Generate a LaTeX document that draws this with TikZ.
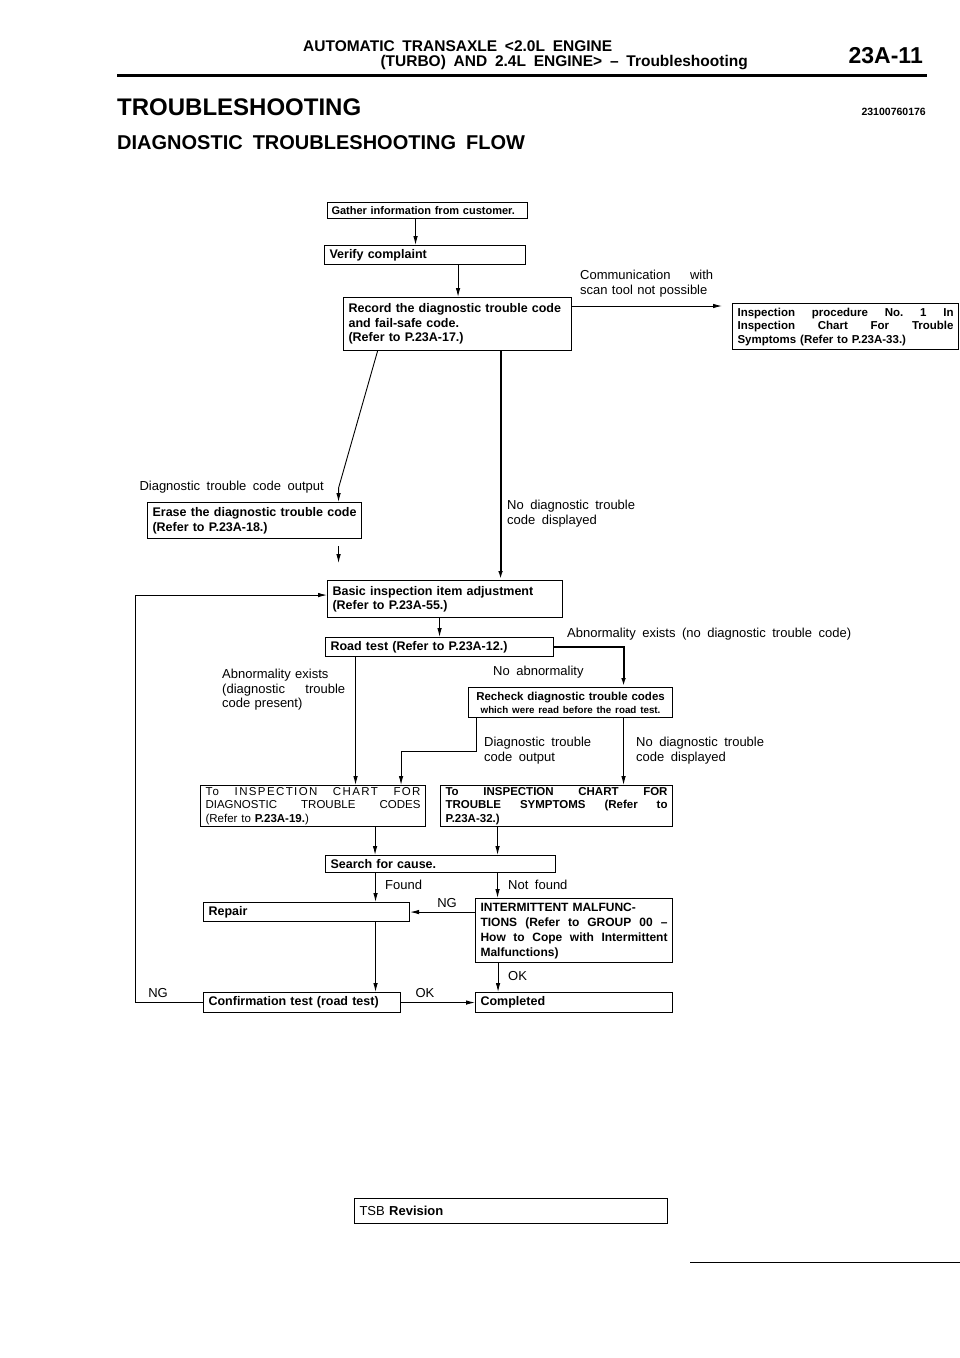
\documentclass[tikz,border=0pt]{standalone}
\usepackage{fontspec}
\setmainfont{Liberation Sans}[WordSpace=1.8]
\usepackage{tikz}
\usetikzlibrary{arrows.meta}

\tikzset{
  box/.style={draw, line width=1.1pt, anchor=north west, inner xsep=5pt, inner ysep=1.5pt,
    align=left, font=\bfseries\fontsize{12.5}{14.5}\selectfont},
  lbl/.style={inner sep=0pt, align=left, font=\fontsize{13}{14.5}\selectfont},
  arr/.style={line width=.9pt, -{Latex[length=9pt,width=4.5pt]}},
  heavy/.style={line width=2pt},
}

\begin{document}
\begin{tikzpicture}[x=1pt, y=-1pt]
\useasboundingbox (0,0) rectangle (960,1358);
\node[anchor=west, inner sep=0pt, font=\bfseries\fontsize{15.5}{18}\selectfont] (head1) at (303,46) {AUTOMATIC TRANSAXLE <2.0L ENGINE};
\node[anchor=east, inner sep=0pt, font=\bfseries\fontsize{15.5}{18}\selectfont] (head2) at (748,63) {(TURBO) AND 2.4L ENGINE> -- Troubleshooting};
\node[anchor=east, inner sep=0pt, font=\bfseries\fontsize{23}{26}\selectfont] (pageno) at (923,56) {23A-11};
\draw[line width=3pt] (117,75) -- (927,75);
\node[anchor=west, inner sep=0pt, font=\bfseries\fontsize{24}{28}\selectfont] (title) at (117,107) {TROUBLESHOOTING};
\node[anchor=west, inner sep=0pt, font=\bfseries\fontsize{20}{24}\selectfont] (subtitle) at (117,143) {DIAGNOSTIC TROUBLESHOOTING FLOW};
\node[anchor=east, inner sep=0pt, font=\bfseries\fontsize{10.5}{12}\selectfont] (docno) at (926,112) {23100760176};

\node[box, text width=192pt, inner xsep=4pt, minimum height=16pt, font=\bfseries\fontsize{11}{13}\selectfont] (gather) at (327,202) {Gather information from customer.};
\node[box, text width=191pt, minimum height=19pt] (verify) at (324,245) {Verify complaint};
\node[box, text width=218pt, minimum height=53pt] (record) at (343,297) {Record the diagnostic trouble code\\and fail-safe code.\\(Refer to P.23A-17.)};
\node[box, text width=216pt, minimum height=46pt, font=\bfseries\fontsize{11.5}{13.5}\selectfont] (noscan) at (732,303)
  {Inspection\hfill procedure\hfill No.\hfill 1\hfill In\\Inspection\hfill Chart\hfill For\hfill Trouble\\Symptoms (Refer to P.23A-33.)};
\node[box, text width=204pt, minimum height=36pt] (erase) at (147,502) {Erase\hfill the\hfill diagnostic\hfill trouble\hfill code\\(Refer to P.23A-18.)};
\node[box, text width=225pt, minimum height=37pt] (basic) at (327,580) {Basic inspection item adjustment\\(Refer to P.23A-55.)};
\node[box, text width=218pt, minimum height=19pt] (roadtest) at (325,637) {Road test (Refer to P.23A-12.)};
\node[box, text width=194pt, minimum height=30pt, align=center, font=\bfseries\fontsize{11.5}{13}\selectfont] (recheck) at (468,687)
  {Recheck diagnostic trouble codes\\{\fontsize{9.8}{11}\selectfont which were read before the road test.}};
\node[box, text width=215pt, minimum height=41pt, font=\fontsize{11.5}{13.5}\selectfont] (chartdtc) at (200,785)
  {{\addfontfeatures{LetterSpace=12}To\hfill INSPECTION\hfill CHART\hfill FOR}\\DIAGNOSTIC\hfill TROUBLE\hfill CODES\\(Refer to \textbf{P.23A-19.})};
\node[box, text width=222pt, minimum height=41pt, font=\bfseries\fontsize{11.5}{13.5}\selectfont] (chartsym) at (440,785)
  {To\hfill INSPECTION\hfill CHART\hfill FOR\\TROUBLE\hfill SYMPTOMS\hfill (Refer\hfill to\\P.23A-32.)};
\node[box, text width=220pt, minimum height=17pt] (search) at (325,855) {Search for cause.};
\node[box, text width=196pt, minimum height=19pt] (repair) at (203,902) {Repair};
\node[box, text width=187pt, minimum height=64pt, font=\bfseries\fontsize{12}{15}\selectfont] (intermit) at (475,898)
  {INTERMITTENT MALFUNC-\\TIONS\hfill (Refer\hfill to\hfill GROUP\hfill 00\hfill --\\How\hfill to\hfill Cope\hfill with\hfill Intermittent\\Malfunctions)};
\node[box, text width=187pt, minimum height=20pt] (confirm) at (203,992) {Confirmation test (road test)};
\node[box, text width=187pt, minimum height=20pt] (done) at (475,992) {Completed};

\node[lbl, anchor=north west, text width=133pt] (comm) at (580,270) {Communication\hfill with\\scan tool not possible};
\node[lbl, anchor=east] (dtcout) at (324,487) {Diagnostic trouble code output};
\node[lbl, anchor=north west] (nodtc) at (507,500) {No diagnostic trouble\\code displayed};
\node[lbl, anchor=west] (abnno) at (567,634) {Abnormality exists (no diagnostic trouble code)};
\node[lbl, anchor=north west, text width=123pt] (abndtc) at (222,669) {Abnormality exists\\(diagnostic\hfill trouble\\code present)};
\node[lbl, anchor=west] (noabn) at (493,672) {No abnormality};
\node[lbl, anchor=north west] (dtcoutb) at (484,737) {Diagnostic trouble\\code output};
\node[lbl, anchor=north west] (nodtcb) at (636,737) {No diagnostic trouble\\code displayed};
\node[lbl, anchor=west] (found) at (385,885) {Found};
\node[lbl, anchor=west] (notfound) at (508,885) {Not found};
\node[lbl] (ngrepair) at (447,903) {NG};
\node[lbl, anchor=west] (okdone) at (508,976) {OK};
\node[lbl] (okconfirm) at (425,993) {OK};
\node[lbl] (ngloop) at (158,993) {NG};

\draw[arr] ([xshift=-12pt]gather.south) -- ([xshift=-12pt]gather.south |- verify.north);
\draw[arr] ([xshift=33pt]verify.south) -- ([xshift=33pt]verify.south |- record.north);
\draw[arr, shorten >=10pt] ([yshift=-9pt]record.north east) -- ([yshift=-9pt]record.north east -| noscan.west);
\draw[arr] ([xshift=-80pt]record.south) -- ([xshift=84pt, yshift=14pt]erase.north) -- ([xshift=84pt]erase.north);
\draw[arr, heavy] ([xshift=43pt]record.south) -- ([xshift=43pt]record.south |- basic.north);
\draw[arr] ([xshift=84pt, yshift=-7pt]erase.south) -- ++(0,17);
\draw[arr] (confirm.west) -- ++(-68,0) |- ([yshift=4pt]basic.west);
\draw[arr] (basic.south -| roadtest.north) -- (roadtest.north);
\draw[arr, heavy] (roadtest.east) -| ([xshift=53pt]recheck.north);
\draw[arr] ([xshift=-84pt]roadtest.south) -- ([xshift=-84pt]roadtest.south |- chartdtc.north);
\draw[arr] ([xshift=-94pt]recheck.south) -- ++(0,33) -| ([xshift=88pt]chartdtc.north);
\draw[arr] ([xshift=53pt]recheck.south) -- ([xshift=53pt]recheck.south |- chartsym.north);
\draw[arr] ([xshift=62pt]chartdtc.south) -- ([xshift=62pt]chartdtc.south |- search.north);
\draw[arr] ([xshift=-59pt]chartsym.south) -- ([xshift=-59pt]chartsym.south |- search.north);
\draw[arr] ([xshift=-65pt]search.south) -- ([xshift=-65pt]search.south |- repair.north);
\draw[arr] ([xshift=57pt]search.south) -- ([xshift=57pt]search.south |- intermit.north);
\draw[arr] (repair.east -| intermit.west) -- (repair.east);
\draw[arr] ([xshift=69pt]repair.south) -- ([xshift=69pt]repair.south |- confirm.north);
\draw[arr] ([xshift=-76pt]intermit.south) -- ([xshift=-76pt]intermit.south |- done.north);
\draw[arr] (confirm.east) -- (confirm.east -| done.west);

\node[box, text width=303pt, minimum height=25pt, font=\fontsize{13}{15}\selectfont] (tsb) at (354,1198) {TSB \textbf{Revision}};
\draw[line width=1pt] (690,1262) -- (960,1262);
\end{tikzpicture}
\end{document}
